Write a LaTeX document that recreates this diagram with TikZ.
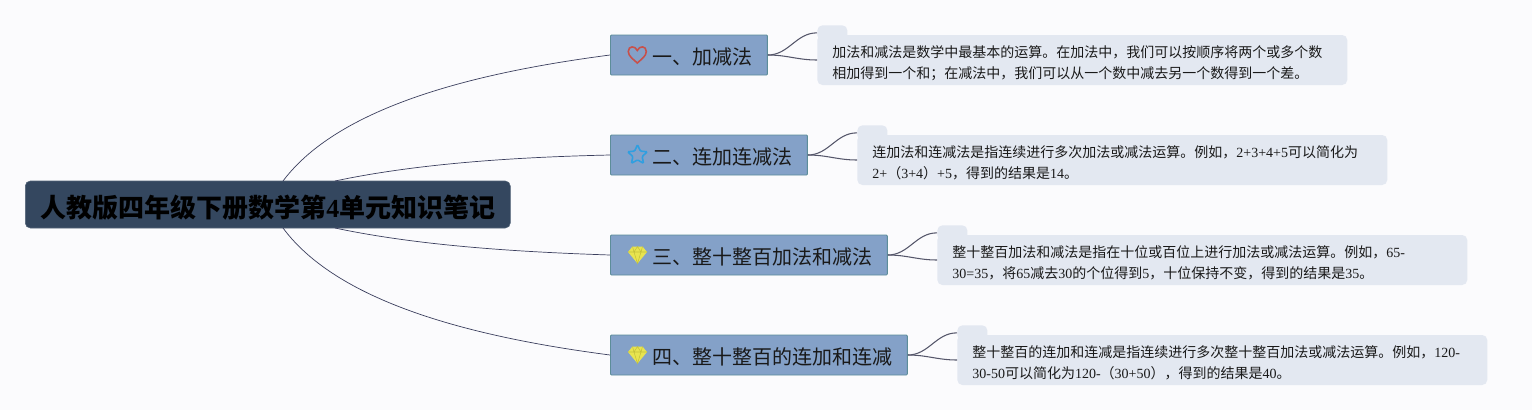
\documentclass[tikz,border=0pt]{standalone}
\usepackage{fontspec}
\setmainfont{Noto Sans CJK SC}
\newfontfamily\latn{Liberation Serif}
\newcommand{\nm}[1]{{\latn #1}}
\usetikzlibrary{shapes.geometric}

\definecolor{pagebg}{HTML}{FBFBFD}
\definecolor{rootfill}{HTML}{34475F}
\definecolor{topicfill}{HTML}{84A1C8}
\definecolor{topicline}{HTML}{5C8D99}
\definecolor{notefill}{HTML}{E3E8F1}
\definecolor{rootlink}{HTML}{3B3F5E}
\definecolor{notelink}{HTML}{55566A}
\definecolor{iconblue}{HTML}{2F9FE0}
\definecolor{iconred}{HTML}{C8504A}
\definecolor{iconyellow}{HTML}{E8E44F}
\definecolor{iconyellowdark}{HTML}{C4C03A}

\tikzset{
    rootbox/.style={fill=rootfill, draw=rootfill!85!white, line width=0.3pt, rounded corners=0.1cm, inner xsep=0.3cm, inner ysep=0pt, minimum height=0.94cm, text height=16.4pt, text=black, font=\fontsize{14.8}{18}\selectfont\bfseries},
    topicbox/.style={fill=topicfill, draw=topicline, line width=0.5pt, rounded corners=0.02cm, inner xsep=0.3cm, inner ysep=0pt, minimum height=0.8cm, text height=11.2pt, text=black!90, font=\fontsize{11.38}{14}\selectfont},
    notebox/.style={fill=notefill, rounded corners=0.1cm, inner xsep=0.3cm, inner ysep=0pt, text width=10cm, minimum height=1cm, align=left, text=black!90, font=\fontsize{7.97}{12}\selectfont, execute at begin node={\rule{0pt}{9.9pt}}},
    notetab/.style={fill=notefill, rounded corners=0.1cm, inner sep=0pt, minimum width=0.6cm, minimum height=0.3cm},
    rootlinkstyle/.style={draw=rootlink, line width=0.4pt},
    notelinkstyle/.style={draw=notelink, line width=0.6pt},
    iconstar/.style={star, star points=5, star point ratio=2.1, draw=iconblue, line width=0.9pt, inner sep=0pt, minimum size=0.41cm, rounded corners=0.02cm},
}

% gem icon, centred on the given coordinate
\newcommand{\gemicon}[1]{
    \begin{scope}[shift={#1}]
        \fill[iconyellow] (-5,-8.5) -- (5,-8.5) -- (9.5,-3) -- (0,8.5) -- (-9.5,-3) -- cycle;
        \draw[iconyellowdark, line width=0.3pt] (-9.5,-3) -- (9.5,-3) (-5,-8.5) -- (-3.5,-3) -- (0,8.5) -- (3.5,-3) -- (5,-8.5) (-3.5,-3) -- (0,-8.5) -- (3.5,-3);
    \end{scope}
}

\begin{document}
\begin{tikzpicture}[x=0.02cm, y=-0.02cm]
    \fill[pagebg] (0,0) rectangle (1532,410);
    \useasboundingbox (0,0) rectangle (1532,410);

    % Root
    \node[rootbox, anchor=west] (root) at (25,204.5) {人教版四年级下册数学第\nm{4}单元知识笔记};
    \coordinate (rootup1) at (283,181);
    \coordinate (rootup2) at (335,181);
    \coordinate (rootdown1) at (335,228);
    \coordinate (rootdown2) at (283,228);

    % Topics
    \node[topicbox, anchor=west] (topic1) at (610,55) {\hspace*{0.54cm}一、加减法};
    \node[topicbox, anchor=west] (topic2) at (610,155) {\hspace*{0.54cm}二、连加连减法};
    \node[topicbox, anchor=west] (topic3) at (610,255) {\hspace*{0.54cm}三、整十整百加法和减法};
    \node[topicbox, anchor=west] (topic4) at (610,355) {\hspace*{0.54cm}四、整十整百的连加和连减};

    % Icons
    \draw[iconred, line width=0.9pt] (637.3,63) .. controls (633,59) and (628.3,56) .. (628.3,51.5) .. controls (628.3,45.5) and (635.3,45.5) .. (637.3,50.5) .. controls (639.3,45.5) and (646.3,45.5) .. (646.3,51.5) .. controls (646.3,56) and (641.6,59) .. (637.3,63) -- cycle;
    \node[iconstar] (star2) at (637.5,155) {};
    \gemicon{(637.5,255)}
    \gemicon{(637.5,355)}

    % Root links
    \draw[rootlinkstyle] (rootup1) .. controls (340,105) and (480,72) .. (topic1.west);
    \draw[rootlinkstyle] (rootup2) .. controls (420,163) and (520,157) .. (topic2.west);
    \draw[rootlinkstyle] (rootdown1) .. controls (420,246) and (520,252) .. (topic3.west);
    \draw[rootlinkstyle] (rootdown2) .. controls (340,305) and (480,338) .. (topic4.west);

    % Note 1
    \node[notetab, anchor=north west] (tab1) at (817,25) {};
    \node[notebox, anchor=west] (note1) at (817,60) {加法和减法是数学中最基本的运算。在加法中，我们可以按顺序将两个或多个数\\相加得到一个和；在减法中，我们可以从一个数中减去另一个数得到一个差。};
    \draw[notelinkstyle] (topic1.east) to[out=0, in=180] (tab1.west);
    \draw[notelinkstyle] (topic1.east) to[out=0, in=180] (note1.west);

    % Note 2
    \node[notetab, anchor=north west] (tab2) at (857,125) {};
    \node[notebox, anchor=west] (note2) at (857,160) {连加法和连减法是指连续进行多次加法或减法运算。例如，\nm{2+3+4+5}可以简化为\\\nm{2+}（\nm{3+4}）\nm{+5}，得到的结果是\nm{14}。};
    \draw[notelinkstyle] (topic2.east) to[out=0, in=180] (tab2.west);
    \draw[notelinkstyle] (topic2.east) to[out=0, in=180] (note2.west);

    % Note 3
    \node[notetab, anchor=north west] (tab3) at (937,225) {};
    \node[notebox, anchor=west] (note3) at (937,260) {整十整百加法和减法是指在十位或百位上进行加法或减法运算。例如，\nm{65-}\\\nm{30=35}，将\nm{65}减去\nm{30}的个位得到\nm{5}，十位保持不变，得到的结果是\nm{35}。};
    \draw[notelinkstyle] (topic3.east) to[out=0, in=180] (tab3.west);
    \draw[notelinkstyle] (topic3.east) to[out=0, in=180] (note3.west);

    % Note 4
    \node[notetab, anchor=north west] (tab4) at (957,325) {};
    \node[notebox, anchor=west] (note4) at (957,360) {整十整百的连加和连减是指连续进行多次整十整百加法或减法运算。例如，\nm{120-}\\\nm{30-50}可以简化为\nm{120-}（\nm{30+50}），得到的结果是\nm{40}。};
    \draw[notelinkstyle] (topic4.east) to[out=0, in=180] (tab4.west);
    \draw[notelinkstyle] (topic4.east) to[out=0, in=180] (note4.west);
\end{tikzpicture}
\end{document}
